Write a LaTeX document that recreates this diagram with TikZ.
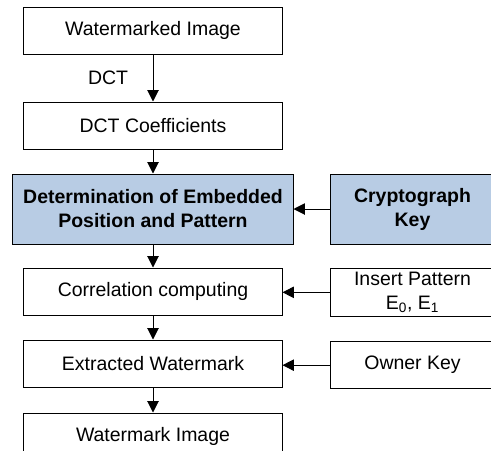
\documentclass[tikz,border=0pt]{standalone}
\usepackage{fontspec}
\setmainfont{Liberation Sans}
\usetikzlibrary{positioning,arrows.meta}
\definecolor{keyblue}{HTML}{B8CCE4}

\begin{document}
\begin{tikzpicture}[>={Triangle[length=8.5pt,width=8.5pt]}, node distance=18pt,
    every node/.style={font=\fontsize{14.6}{17.5}\selectfont},
    stage/.style={draw, line width=0.75pt, minimum width=193.5pt, minimum height=35.25pt, align=center},
    keybox/.style={draw, line width=0.75pt, minimum width=123.75pt, minimum height=35.25pt, align=center},
    bluebox/.style={draw, line width=0.75pt, fill=keyblue, minimum height=52.5pt, align=center,
      font=\fontsize{14.6}{18}\selectfont\bfseries},
    flow/.style={->, line width=0.75pt}]
  % page frame cuts off the right column and the last box
  \clip (-114.75pt,22.875pt) rectangle (253.5pt,-314.625pt);

  % main column
  \node[stage] (wimg) at (0,0) {Watermarked Image};
  \node[stage, below=35.25pt of wimg] (coef) {DCT Coefficients};
  \node[bluebox, minimum width=210pt, below=of coef] (pos) {Determination of Embedded\\Position and Pattern};
  \node[stage, below=17.25pt of pos] (corr) {Correlation computing};
  \node[stage, below=of corr] (extr) {Extracted Watermark};
  \node[stage, below=18.75pt of extr] (mark) {Watermark Image};

  % keys on the right
  \node[bluebox, minimum width=123.75pt, anchor=west] (crypt) at ([xshift=27pt]pos.east) {Cryptograph\\Key};
  \node[keybox, below=17.25pt of crypt] (patt) {Insert Pattern\\E\textsubscript{0}, E\textsubscript{1}};
  \node[keybox, below=of patt] (owner) {Owner Key};

  \draw[flow] (wimg) -- node[midway, left=15pt] {DCT} (coef);
  \draw[flow] (coef) -- (pos);
  \draw[flow] (pos) -- (corr);
  \draw[flow] (corr) -- (extr);
  \draw[flow] (extr) -- (mark);

  \draw[flow] (crypt) -- (pos);
  \draw[flow] (patt.west) -- (patt.west -| corr.east);
  \draw[flow] (owner.west) -- (owner.west -| extr.east);
\end{tikzpicture}
\end{document}
